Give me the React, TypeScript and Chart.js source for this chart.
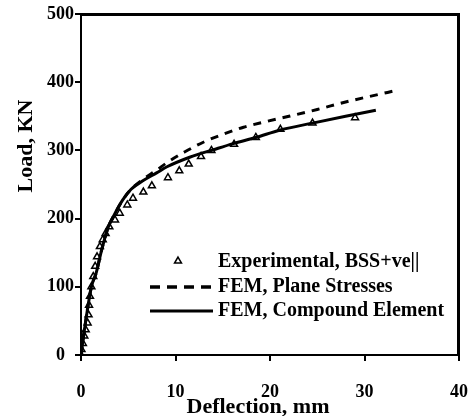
import { useEffect, useRef } from "react";
import { Chart, registerables } from "chart.js";
Chart.register(...registerables);

const xTicks = [0, 10, 20, 30, 40];
const yTicks = [0, 100, 200, 300, 400, 500];

const expDeflection = [0, 0.05, 0.2, 0.35, 0.5, 0.7, 0.8, 0.85, 0.95, 1.1, 1.3, 1.5, 1.7, 2.0, 2.3, 2.6, 3.0, 3.6, 4.1, 4.9, 5.5, 6.6, 7.5, 9.2, 10.4, 11.4, 12.7, 13.8, 16.2, 18.5, 21.1, 24.5, 29.0];
const expLoad = [0, 8, 17, 28, 37, 47, 59, 73, 86, 100, 115, 130, 144, 159, 169, 178, 188, 198, 208, 220, 230, 239, 248, 260, 270, 280, 291, 300, 309, 319, 331, 340, 348];

const planeDeflection = [0, 0.5, 1.1, 1.6, 2.2, 2.9, 3.5, 4.4, 5.3, 6.5, 8.0, 9.2, 11.0, 13.1, 15.1, 17.2, 19.5, 22.0, 25.0, 28.0, 30.5, 33.4];
const planeLoad = [0, 50, 100, 120, 155, 188, 205, 227, 243, 257, 271, 283, 298, 313, 324, 334, 342, 350, 360, 371, 379, 388];

const compoundDeflection = [0, 0.5, 1.1, 1.6, 2.2, 2.9, 3.5, 4.4, 5.3, 6.5, 8.0, 9.1, 11.5, 14.0, 16.1, 18.5, 21.1, 24.5, 28.0, 31.2];
const compoundLoad = [0, 50, 100, 120, 155, 188, 205, 227, 243, 255, 267, 276, 290, 301, 310, 319, 330, 340, 350, 359];

const seriesNames = ["Experimental, BSS+ve||", "FEM, Plane Stresses", "FEM, Compound Element"];
const xTitle = "Deflection, mm";
const yTitle = "Load, KN";

const FONT = "'Liberation Serif', 'Times New Roman', serif";

const pts = (xs: number[], ys: number[]) => xs.map((x, i) => ({ x, y: ys[i] }));

export default function App() {
  const ref = useRef<HTMLCanvasElement>(null);
  useEffect(() => {
    document.body.style.margin = "0";
    const canvas = ref.current!;
    const decor = {
      id: "decor",
      afterDraw(chart: any) {
        const { ctx, chartArea: a } = chart;
        ctx.save();
        ctx.setLineDash([]);
        ctx.globalAlpha = 1;
        ctx.globalCompositeOperation = "source-over";
        ctx.fillStyle = "#000";
        ctx.strokeStyle = "#000";
        // top and right frame (inside the area edge)
        ctx.fillRect(Math.round(a.left), Math.round(a.top) - 1, Math.round(a.right - a.left) + 1, 3);
        ctx.fillRect(Math.round(a.right) - 2, Math.round(a.top) - 1, 3, Math.round(a.bottom - a.top) + 1);
        // legend
        const lx0 = a.left + 69, lx1 = a.left + 132, tx = a.left + 137;
        const rows = [a.top + 248, a.top + 273, a.top + 297];
        ctx.font = `bold 20px ${FONT}`;
        ctx.textBaseline = "middle";
        ctx.textAlign = "left";
        rows.forEach((y, i) => ctx.fillText(seriesNames[i], tx, y));
        const cx = a.left + 97, cy = rows[0] - 1, r = 4;
        ctx.lineWidth = 1.5;
        ctx.beginPath();
        ctx.moveTo(cx, cy - r);
        ctx.lineTo(cx + r * 0.866, cy + r * 0.5);
        ctx.lineTo(cx - r * 0.866, cy + r * 0.5);
        ctx.closePath();
        ctx.stroke();
        ctx.lineWidth = 3.5;
        ctx.setLineDash([10, 7]);
        ctx.beginPath();
        ctx.moveTo(lx0, rows[1]);
        ctx.lineTo(lx1, rows[1]);
        ctx.stroke();
        ctx.setLineDash([]);
        ctx.lineWidth = 3;
        ctx.beginPath();
        ctx.moveTo(lx0, rows[2]);
        ctx.lineTo(lx1, rows[2]);
        ctx.stroke();
        // axis titles
        ctx.font = `bold 22px ${FONT}`;
        ctx.textAlign = "center";
        ctx.textBaseline = "alphabetic";
        ctx.fillText(xTitle, 258, 413);
        ctx.translate(32, 146);
        ctx.rotate(-Math.PI / 2);
        ctx.fillText(yTitle, 0, 0);
        ctx.restore();
      },
    };
    const chart = new Chart(canvas, {
      type: "scatter",
      data: {
        datasets: [
          {
            label: seriesNames[0],
            data: pts(expDeflection, expLoad),
            showLine: false,
            pointStyle: "triangle",
            pointRadius: 4,
            borderWidth: 1.5,
            borderColor: "#000",
            backgroundColor: "rgba(0,0,0,0)",
          },
          {
            label: seriesNames[1],
            data: pts(planeDeflection, planeLoad),
            showLine: true,
            pointRadius: 0,
            borderWidth: 3,
            borderDash: [8, 7],
            borderColor: "#000",
            cubicInterpolationMode: "monotone",
          },
          {
            label: seriesNames[2],
            data: pts(compoundDeflection, compoundLoad),
            showLine: true,
            pointRadius: 0,
            borderWidth: 3,
            borderColor: "#000",
            cubicInterpolationMode: "monotone",
          },
        ],
      },
      options: {
        responsive: false,
        animation: false,
        devicePixelRatio: 1,
        layout: { padding: { top: 14, right: 13, left: 0, bottom: 0 } },
        plugins: { legend: { display: false }, tooltip: { enabled: false } },
        scales: {
          x: {
            type: "linear",
            position: "bottom",
            min: 0,
            max: 40,
            afterFit: (s: any) => { s.height = 61; s.paddingRight = 9; s.paddingLeft = 5; },
            afterBuildTicks: (s: any) => { s.ticks = xTicks.map((v) => ({ value: v })); },
            ticks: { color: "#000", font: { family: FONT, size: 18, weight: "bold" }, padding: 21, maxRotation: 0 },
            grid: { drawOnChartArea: false, drawTicks: true, tickLength: 6, color: "#000", lineWidth: 2 },
            border: { display: true, color: "#000", width: 2 },
          },
          y: {
            type: "linear",
            position: "left",
            min: 0,
            max: 500,
            afterFit: (s: any) => { s.width = 81; },
            afterBuildTicks: (s: any) => { s.ticks = yTicks.map((v) => ({ value: v })); },
            ticks: {
              color: "#000",
              font: { family: FONT, size: 18, weight: "bold" },
              padding: 1,
              callback: (v: any) => (v === 0 ? "0  " : String(v)),
            },
            grid: { drawOnChartArea: false, drawTicks: true, tickLength: 6, color: "#000", lineWidth: 2 },
            border: { display: true, color: "#000", width: 2 },
          },
        },
      },
      plugins: [decor],
    });
    return () => chart.destroy();
  }, []);
  return <canvas ref={ref} width={472} height={416} style={{ display: "block" }} />;
}
